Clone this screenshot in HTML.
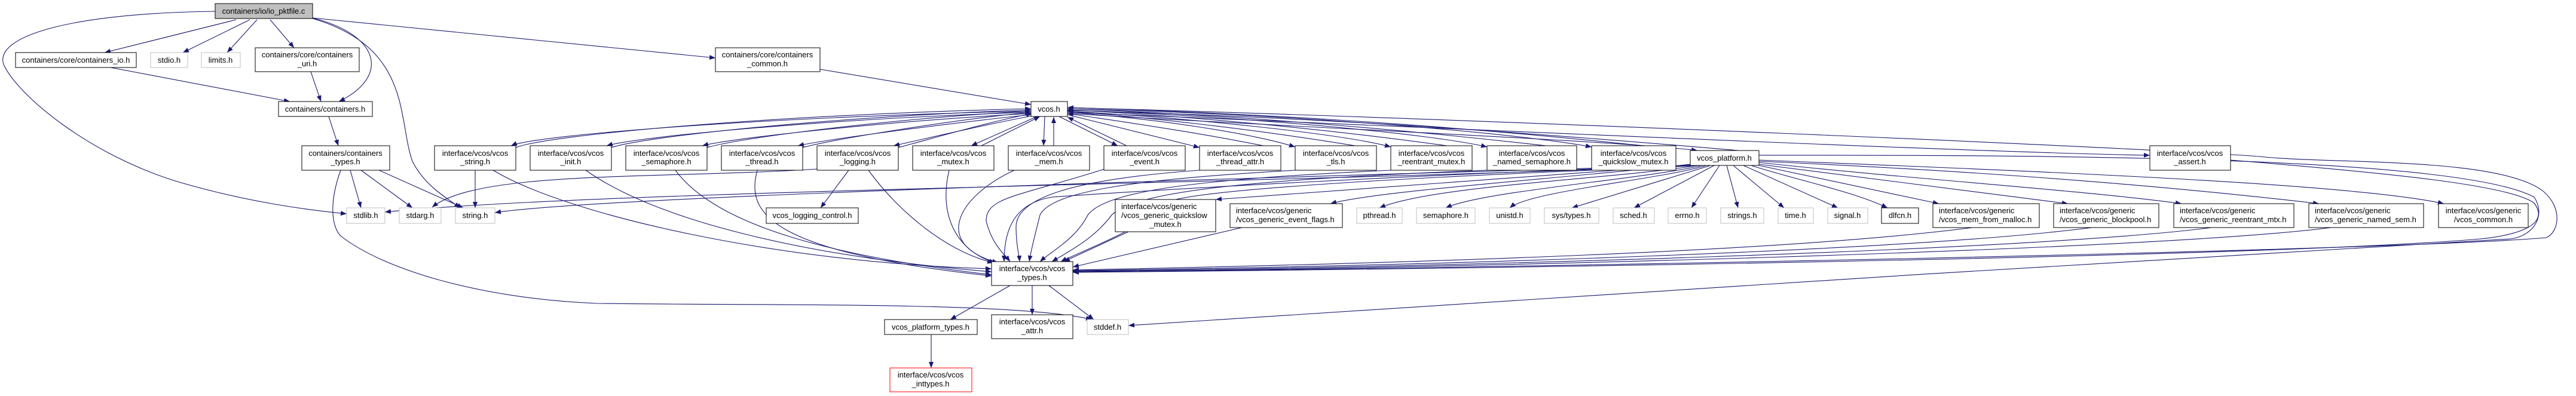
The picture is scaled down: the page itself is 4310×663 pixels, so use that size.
<!DOCTYPE html>
<html><head><meta charset="utf-8"><style>
html,body{margin:0;padding:0;background:#fff;}
svg{display:block;}
text{font-family:"Liberation Sans",sans-serif;font-size:13px;fill:#000;}
.n{fill:#fff;stroke:#000;stroke-width:1;}
.g{fill:#fff;stroke:#bfbfbf;stroke-width:1;}
.e{fill:none;stroke:#191970;stroke-width:1.1;}
</style></head><body>
<svg width="4310" height="663" viewBox="0 0 4310 663" xmlns="http://www.w3.org/2000/svg">
<defs><marker id="a" markerUnits="userSpaceOnUse" markerWidth="11" markerHeight="9" refX="10" refY="4" orient="auto"><path d="M0,0 L10,4 L0,8 z" fill="#191970"/></marker></defs>
<g marker-end="url(#a)" class="e">
<!-- root -->
<path d="M395,33 L175,88"/>
<path d="M418,33 L306,88"/>
<path d="M430,33 L380,88"/>
<path d="M452,33 L492,80"/>
<path d="M523,30 C640,60 650,130 567,170"/>
<path d="M523,31 C690,80 665,200 690,270 C710,310 745,330 770,348"/>
<path d="M523,30 L1197,97"/>
<path d="M360,19 C120,22 -10,60 6,108 C30,160 150,260 300,305 C420,340 520,352 580,358"/>
<path d="M185,113 L485,170"/>
<path d="M520,120 L537,170"/>
<path d="M550,195 L566,244"/>
<path d="M586,285 L604,348"/>
<path d="M604,285 L690,348"/>
<path d="M634,285 L775,348"/>
<path d="M570,285 C550,340 555,380 570,395 C640,450 800,500 1000,508 C1300,512 1700,505 1827,535"/>
<path d="M1372,116 L1725,175"/>
<!-- vcos.h to row3 & back -->
<path d="M1725,186 C1300,195 900,225 855,244"/>
<path d="M863,247 C920,225 1300,192 1725,182"/>
<path d="M1725,188 C1400,198 1070,228 1015,244"/>
<path d="M1023,247 C1080,228 1400,195 1725,184"/>
<path d="M1725,190 C1500,202 1230,230 1175,244"/>
<path d="M1183,247 C1240,230 1500,198 1725,186"/>
<path d="M1725,192 C1600,205 1390,232 1335,244"/>
<path d="M1343,247 C1400,232 1600,200 1725,188"/>
<path d="M1727,194 C1650,208 1550,232 1495,244"/>
<path d="M1503,247 C1560,232 1650,205 1727,190"/>
<path d="M1735,195 L1625,244"/>
<path d="M1642,244 L1740,195"/>
<path d="M1748,195 L1746,244"/>
<path d="M1763,244 L1763,196"/>
<path d="M1772,195 L1870,244"/>
<path d="M1885,244 L1786,196"/>
<path d="M1786,192 L2007,247"/>
<path d="M2143,250 C2000,220 1850,200 1786,190"/>
<path d="M1786,188 C1950,200 2100,225 2167,246"/>
<path d="M2303,250 C2100,215 1900,195 1786,186"/>
<path d="M1786,186 C2000,198 2250,225 2327,246"/>
<path d="M2463,250 C2200,212 1950,192 1786,184"/>
<path d="M1786,184 C2100,196 2400,225 2488,246"/>
<path d="M2638,250 C2300,210 2000,190 1786,182"/>
<path d="M1786,182 C2200,192 2550,225 2663,246"/>
<path d="M2804,250 C2400,205 2050,188 1786,180"/>
<path d="M1786,190 C2200,215 2700,235 2840,252"/>
<path d="M2943,255 C2600,225 2200,195 1786,185"/>
<path d="M1786,188 C2500,218 3300,255 3597,260"/>
<path d="M1786,180 C2500,200 3600,248 3780,262 C3900,275 4180,262 4255,320 C4290,350 4280,390 4260,398 C4000,420 2500,450 1795,455"/>
<!-- row3 to below -->
<path d="M795,285 L795,348"/>
<path d="M825,285 C950,360 1300,440 1659,450"/>
<path d="M980,285 C1100,370 1350,430 1659,455"/>
<path d="M1130,285 C1200,380 1400,430 1659,460"/>
<path d="M1267,285 C1250,350 1270,420 1659,462"/>
<path d="M1453,285 C1500,350 1580,420 1662,440"/>
<path d="M1420,285 L1373,348"/>
<path d="M1367,283 C1100,300 800,285 723,347"/>
<path d="M1588,285 C1570,360 1600,420 1665,440"/>
<path d="M1697,285 C1600,330 1560,410 1670,440"/>
<path d="M1848,283 C1700,330 1650,330 1650,370 C1660,410 1680,425 1690,438"/>
<path d="M2007,285 C1800,300 1700,330 1700,380 C1700,410 1705,425 1706,438"/>
<path d="M2167,285 C1900,300 1760,320 1740,360 C1730,400 1725,420 1722,438"/>
<path d="M2327,285 C2000,300 1850,320 1820,360 C1800,400 1760,420 1740,438"/>
<path d="M2488,285 C2100,300 1900,320 1860,360 C1830,400 1790,420 1760,438"/>
<path d="M2663,285 C2300,300 1980,320 1950,340 C1920,380 1810,420 1775,438"/>
<path d="M2843,277 C2400,290 1900,320 1760,330 C1700,340 1680,380 1680,438"/>
<!-- platform -->
<path d="M2830,277 C2000,300 1000,330 828,356"/>
<path d="M2828,278 C2000,310 1000,320 644,355"/>
<path d="M2840,277 C2700,300 2400,310 2308,348"/>
<path d="M2848,277 C2750,300 2480,320 2419,348"/>
<path d="M2855,277 C2780,300 2560,320 2526,348"/>
<path d="M2862,277 L2630,348"/>
<path d="M2868,277 L2734,348"/>
<path d="M2877,277 L2830,348"/>
<path d="M2889,277 L2908,348"/>
<path d="M2900,277 L2985,348"/>
<path d="M2917,277 L3075,348"/>
<path d="M2930,277 C3000,300 3100,320 3158,348"/>
<path d="M2943,277 L3244,341"/>
<path d="M2943,275 L3460,341"/>
<path d="M2943,272 C3200,300 3500,320 3650,341"/>
<path d="M2943,270 C3400,290 3700,320 3880,341"/>
<path d="M2943,268 C3500,290 3950,310 4089,341"/>
<path d="M2828,275 C2600,300 2300,320 2226,341"/>
<path d="M2828,276 C2500,300 2200,320 2034,334"/>
<!-- generic to vcos_types -->
<path d="M1888,388 L1780,438"/>
<path d="M2078,381 L1795,447"/>
<path d="M3300,381 C3000,420 2400,440 1795,452"/>
<path d="M3500,381 C3200,420 2400,445 1795,453"/>
<path d="M3700,381 C3400,420 2400,448 1795,454"/>
<path d="M3900,381 C3600,420 2400,450 1795,455"/>
<path d="M3732,268 C4000,290 4200,310 4240,340 C4270,380 4200,395 4150,400 C3800,430 2500,450 1795,456"/>
<path d="M2828,260 C3300,260 4100,255 4240,330 C4260,360 4240,395 4200,400 C3500,440 2400,510 1888,545"/>
<!-- vcos_types down -->
<path d="M1690,478 L1590,535"/>
<path d="M1727,478 L1727,527"/>
<path d="M1755,478 L1830,535"/>
<path d="M1558,560 L1558,616"/>
</g>
<!-- nodes -->
<rect x="360" y="6" width="163" height="25" fill="#bfbfbf" stroke="#000"/><text x="441" y="23" text-anchor="middle">containers/io/io_pktfile.c</text>
<rect class="n" x="26" y="88" width="202" height="25"/><text x="127" y="105" text-anchor="middle">containers/core/containers_io.h</text>
<rect class="g" x="252" y="88" width="62" height="25"/><text x="283" y="105" text-anchor="middle">stdio.h</text>
<rect class="g" x="337" y="88" width="65" height="25"/><text x="369" y="105" text-anchor="middle">limits.h</text>
<rect class="n" x="427" y="80" width="174" height="40"/><text x="514" y="96" text-anchor="middle">containers/core/containers</text><text x="514" y="111" text-anchor="middle">_uri.h</text>
<rect class="n" x="1197" y="80" width="175" height="40"/><text x="1284" y="96" text-anchor="middle">containers/core/containers</text><text x="1284" y="111" text-anchor="middle">_common.h</text>
<rect class="n" x="466" y="170" width="157" height="25"/><text x="544" y="187" text-anchor="middle">containers/containers.h</text>
<rect class="n" x="1725" y="170" width="61" height="25"/><text x="1755" y="187" text-anchor="middle">vcos.h</text>
<rect class="n" x="505" y="244" width="147" height="41"/><text x="578" y="261" text-anchor="middle">containers/containers</text><text x="578" y="275" text-anchor="middle">_types.h</text>
<rect class="n" x="727" y="244" width="136" height="41"/><text x="795" y="261" text-anchor="middle">interface/vcos/vcos</text><text x="795" y="275" text-anchor="middle">_string.h</text>
<rect class="n" x="887" y="244" width="136" height="41"/><text x="955" y="261" text-anchor="middle">interface/vcos/vcos</text><text x="955" y="275" text-anchor="middle">_init.h</text>
<rect class="n" x="1047" y="244" width="136" height="41"/><text x="1115" y="261" text-anchor="middle">interface/vcos/vcos</text><text x="1115" y="275" text-anchor="middle">_semaphore.h</text>
<rect class="n" x="1207" y="244" width="136" height="41"/><text x="1275" y="261" text-anchor="middle">interface/vcos/vcos</text><text x="1275" y="275" text-anchor="middle">_thread.h</text>
<rect class="n" x="1367" y="244" width="136" height="41"/><text x="1435" y="261" text-anchor="middle">interface/vcos/vcos</text><text x="1435" y="275" text-anchor="middle">_logging.h</text>
<rect class="n" x="1527" y="244" width="136" height="41"/><text x="1595" y="261" text-anchor="middle">interface/vcos/vcos</text><text x="1595" y="275" text-anchor="middle">_mutex.h</text>
<rect class="n" x="1687" y="244" width="136" height="41"/><text x="1755" y="261" text-anchor="middle">interface/vcos/vcos</text><text x="1755" y="275" text-anchor="middle">_mem.h</text>
<rect class="n" x="1847" y="244" width="136" height="41"/><text x="1915" y="261" text-anchor="middle">interface/vcos/vcos</text><text x="1915" y="275" text-anchor="middle">_event.h</text>
<rect class="n" x="2007" y="244" width="136" height="41"/><text x="2075" y="261" text-anchor="middle">interface/vcos/vcos</text><text x="2075" y="275" text-anchor="middle">_thread_attr.h</text>
<rect class="n" x="2167" y="244" width="136" height="41"/><text x="2235" y="261" text-anchor="middle">interface/vcos/vcos</text><text x="2235" y="275" text-anchor="middle">_tls.h</text>
<rect class="n" x="2327" y="244" width="136" height="41"/><text x="2395" y="261" text-anchor="middle">interface/vcos/vcos</text><text x="2395" y="275" text-anchor="middle">_reentrant_mutex.h</text>
<rect class="n" x="2488" y="244" width="150" height="41"/><text x="2563" y="261" text-anchor="middle">interface/vcos/vcos</text><text x="2563" y="275" text-anchor="middle">_named_semaphore.h</text>
<rect class="n" x="2663" y="244" width="141" height="41"/><text x="2733" y="261" text-anchor="middle">interface/vcos/vcos</text><text x="2733" y="275" text-anchor="middle">_quickslow_mutex.h</text>
<rect class="n" x="2828" y="252" width="115" height="25"/><text x="2885" y="269" text-anchor="middle">vcos_platform.h</text>
<rect class="n" x="3597" y="244" width="135" height="41"/><text x="3664" y="261" text-anchor="middle">interface/vcos/vcos</text><text x="3664" y="275" text-anchor="middle">_assert.h</text>
<rect class="g" x="580" y="348" width="64" height="26"/><text x="612" y="365" text-anchor="middle">stdlib.h</text>
<rect class="g" x="668" y="348" width="70" height="26"/><text x="703" y="365" text-anchor="middle">stdarg.h</text>
<rect class="g" x="762" y="348" width="66" height="26"/><text x="795" y="365" text-anchor="middle">string.h</text>
<rect class="n" x="1282" y="348" width="154" height="26"/><text x="1359" y="365" text-anchor="middle">vcos_logging_control.h</text>
<rect class="g" x="2270" y="348" width="76" height="26"/><text x="2308" y="365" text-anchor="middle">pthread.h</text>
<rect class="g" x="2370" y="348" width="98" height="26"/><text x="2419" y="365" text-anchor="middle">semaphore.h</text>
<rect class="g" x="2492" y="348" width="68" height="26"/><text x="2526" y="365" text-anchor="middle">unistd.h</text>
<rect class="g" x="2584" y="348" width="91" height="26"/><text x="2629" y="365" text-anchor="middle">sys/types.h</text>
<rect class="g" x="2699" y="348" width="69" height="26"/><text x="2733" y="365" text-anchor="middle">sched.h</text>
<rect class="g" x="2791" y="348" width="64" height="26"/><text x="2823" y="365" text-anchor="middle">errno.h</text>
<rect class="g" x="2879" y="348" width="72" height="26"/><text x="2915" y="365" text-anchor="middle">strings.h</text>
<rect class="g" x="2975" y="348" width="59" height="26"/><text x="3004" y="365" text-anchor="middle">time.h</text>
<rect class="g" x="3058" y="348" width="67" height="26"/><text x="3091" y="365" text-anchor="middle">signal.h</text>
<rect class="n" x="3148" y="348" width="62" height="26"/><text x="3179" y="365" text-anchor="middle">dlfcn.h</text>
<rect class="n" x="1866" y="334" width="168" height="54"/><text x="1876" y="350">interface/vcos/generic</text><text x="1876" y="365">/vcos_generic_quickslow</text><text x="1950" y="380" text-anchor="middle">_mutex.h</text>
<rect class="n" x="2058" y="341" width="188" height="40"/><text x="2068" y="357">interface/vcos/generic</text><text x="2068" y="372">/vcos_generic_event_flags.h</text>
<rect class="n" x="3234" y="341" width="178" height="40"/><text x="3244" y="357">interface/vcos/generic</text><text x="3244" y="372">/vcos_mem_from_malloc.h</text>
<rect class="n" x="3436" y="341" width="176" height="40"/><text x="3446" y="357">interface/vcos/generic</text><text x="3446" y="372">/vcos_generic_blockpool.h</text>
<rect class="n" x="3637" y="341" width="201" height="40"/><text x="3647" y="357">interface/vcos/generic</text><text x="3647" y="372">/vcos_generic_reentrant_mtx.h</text>
<rect class="n" x="3863" y="341" width="192" height="40"/><text x="3873" y="357">interface/vcos/generic</text><text x="3873" y="372">/vcos_generic_named_sem.h</text>
<rect class="n" x="4080" y="341" width="150" height="40"/><text x="4155" y="357" text-anchor="middle">interface/vcos/generic</text><text x="4155" y="372" text-anchor="middle">/vcos_common.h</text>
<rect class="n" x="1659" y="438" width="136" height="40"/><text x="1727" y="454" text-anchor="middle">interface/vcos/vcos</text><text x="1727" y="469" text-anchor="middle">_types.h</text>
<rect class="n" x="1480" y="535" width="155" height="25"/><text x="1557" y="552" text-anchor="middle">vcos_platform_types.h</text>
<rect class="n" x="1659" y="527" width="136" height="40"/><text x="1727" y="543" text-anchor="middle">interface/vcos/vcos</text><text x="1727" y="558" text-anchor="middle">_attr.h</text>
<rect class="g" x="1819" y="535" width="69" height="25"/><text x="1853" y="552" text-anchor="middle">stddef.h</text>
<rect x="1489" y="616" width="137" height="40" fill="#fff" stroke="#ff0000"/><text x="1557" y="632" text-anchor="middle">interface/vcos/vcos</text><text x="1557" y="647" text-anchor="middle">_inttypes.h</text>
</svg>
</body></html>
